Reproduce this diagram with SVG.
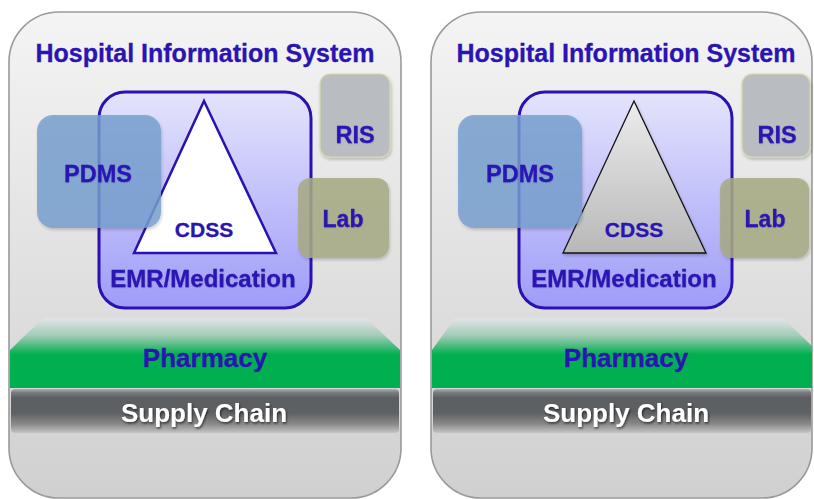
<svg xmlns="http://www.w3.org/2000/svg" width="814" height="499" viewBox="0 0 814 499">
  <defs>
    <linearGradient id="panelGrad" x1="0" y1="0" x2="0" y2="1">
      <stop offset="0" stop-color="#f4f4f4"/>
      <stop offset="0.6" stop-color="#dedede"/>
      <stop offset="1" stop-color="#d0d0d0"/>
    </linearGradient>
    <linearGradient id="emrGrad" x1="0" y1="0" x2="0" y2="1">
      <stop offset="0" stop-color="#e4e4fc"/>
      <stop offset="1" stop-color="#9e9cf8"/>
    </linearGradient>
    <linearGradient id="triGray" x1="0" y1="0" x2="0" y2="1">
      <stop offset="0" stop-color="#ececec"/>
      <stop offset="1" stop-color="#b8b8b8"/>
    </linearGradient>
    <linearGradient id="pharmGrad" gradientUnits="userSpaceOnUse" x1="0" y1="318" x2="0" y2="388">
      <stop offset="0" stop-color="#e2e4e8"/>
      <stop offset="0.25" stop-color="#a4ccb6"/>
      <stop offset="0.52" stop-color="#00b050"/>
      <stop offset="1" stop-color="#00b050"/>
    </linearGradient>
    <linearGradient id="supplyGrad" x1="0" y1="0" x2="0" y2="1">
      <stop offset="0" stop-color="#b0b0b0"/>
      <stop offset="0.08" stop-color="#7a7c7e"/>
      <stop offset="0.2" stop-color="#5c5f62"/>
      <stop offset="0.55" stop-color="#5e6164"/>
      <stop offset="0.8" stop-color="#8a8a8a"/>
      <stop offset="1" stop-color="#c4c4c4"/>
    </linearGradient>
    <filter id="shadow" x="-20%" y="-20%" width="140%" height="140%">
      <feDropShadow dx="1" dy="2" stdDeviation="1.5" flood-color="#000" flood-opacity="0.22"/>
    </filter>
    <filter id="txtShadow" x="-10%" y="-30%" width="120%" height="160%">
      <feDropShadow dx="1" dy="1.5" stdDeviation="1" flood-color="#000" flood-opacity="0.6"/>
    </filter>
    <filter id="lblShadow" x="-10%" y="-30%" width="120%" height="160%">
      <feDropShadow dx="0.5" dy="1" stdDeviation="0.5" flood-color="#000" flood-opacity="0.15"/>
    </filter>
  </defs>
  <style>
    text { font-family: "Liberation Sans", Arial, sans-serif; font-weight: bold; text-anchor: middle; }
    .blue { fill: #2a14b2; stroke: #2a14b2; stroke-width: 0.3; }
    .panel { fill: url(#panelGrad); stroke: #9a9a9a; stroke-width: 1.6; }
    .emr { fill: url(#emrGrad); stroke: #2a12b0; stroke-width: 3; }
    .pdms { fill: #76a0cf; fill-opacity: 0.82; filter: url(#shadow); }
    .ris { fill: #b9bdc1; stroke: #d6daa8; stroke-width: 1.2; filter: url(#shadow); }
    .lab { fill: #a8ac84; fill-opacity: 0.85; filter: url(#shadow); }
    .pharm { fill: url(#pharmGrad); }
    .supply { fill: url(#supplyGrad); }
    .white { fill: #ffffff; filter: url(#txtShadow); }
    .lbl { filter: url(#lblShadow); }
  </style>

  <!-- Left panel -->
  <g id="hisLeft">
    <rect class="panel" x="9" y="12" width="392" height="486" rx="50" ry="50"/>
    <text class="blue" x="205" y="62" font-size="25">Hospital Information System</text>
  </g>
  <g id="pharmacyLeft">
    <polygon class="pharm" points="43,318 366,318 400,350 400,388 10,388 10,350"/>
    <text class="blue" x="205" y="367" font-size="26">Pharmacy</text>
  </g>
  <g id="supplyLeft">
    <rect class="supply" x="11" y="389" width="388" height="44" rx="4"/>
    <text class="white" x="204" y="422" font-size="26">Supply Chain</text>
  </g>
  <g id="emrLeft">
    <rect class="emr" x="99" y="92" width="212" height="216" rx="26"/>
    <text class="blue lbl" x="203" y="287" font-size="24">EMR/Medication</text>
  </g>
  <g id="cdssLeft">
    <polygon points="204,101 276,253 134,253" fill="#ffffff" stroke="#2a12b0" stroke-width="2.5" stroke-linejoin="miter"/>
    <text class="blue" x="204" y="237" font-size="21">CDSS</text>
  </g>
  <g id="pdmsLeft">
    <rect class="pdms" x="37" y="115" width="124" height="113" rx="16"/>
    <text class="blue lbl" x="98" y="182" font-size="23.5">PDMS</text>
  </g>
  <g id="risLeft">
    <rect class="ris" x="320" y="74" width="70" height="83" rx="10"/>
    <text class="blue lbl" x="355" y="143" font-size="23.5">RIS</text>
  </g>
  <g id="labLeft">
    <rect class="lab" x="298" y="178" width="91" height="80" rx="12"/>
    <text class="blue lbl" x="343" y="227" font-size="23">Lab</text>
  </g>

  <!-- Right panel -->
  <g id="hisRight">
    <rect class="panel" x="431" y="12" width="381" height="486" rx="50" ry="50"/>
    <text class="blue" x="626" y="62" font-size="25">Hospital Information System</text>
  </g>
  <g id="pharmacyRight">
    <polygon class="pharm" points="455,318 783,318 812,346 812,388 432,388 432,350"/>
    <text class="blue" x="626" y="367" font-size="26">Pharmacy</text>
  </g>
  <g id="supplyRight">
    <rect class="supply" x="433" y="389" width="378" height="44" rx="4"/>
    <text class="white" x="626" y="422" font-size="26">Supply Chain</text>
  </g>
  <g id="emrRight">
    <rect class="emr" x="519" y="92" width="213" height="216" rx="26"/>
    <text class="blue lbl" x="624" y="287" font-size="24">EMR/Medication</text>
  </g>
  <g id="cdssRight">
    <polygon points="634,101 706,253 563,253" fill="url(#triGray)" stroke="#111111" stroke-width="1.3" filter="url(#shadow)"/>
    <text class="blue" x="634" y="237" font-size="21">CDSS</text>
  </g>
  <g id="pdmsRight">
    <rect class="pdms" x="458" y="115" width="124" height="113" rx="16"/>
    <text class="blue lbl" x="520" y="182" font-size="23.5">PDMS</text>
  </g>
  <g id="risRight">
    <rect class="ris" x="742" y="74" width="68" height="83" rx="10"/>
    <text class="blue lbl" x="777" y="143" font-size="23.5">RIS</text>
  </g>
  <g id="labRight">
    <rect class="lab" x="720" y="178" width="89" height="80" rx="12"/>
    <text class="blue lbl" x="765" y="227" font-size="23">Lab</text>
  </g>

  <g id="connectors"/>
</svg>
